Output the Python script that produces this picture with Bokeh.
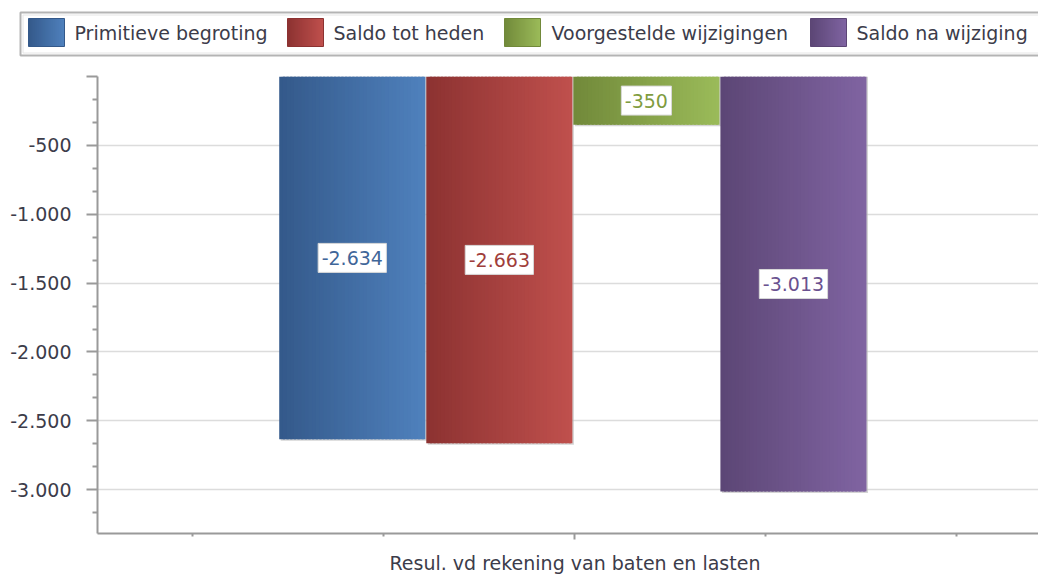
from bokeh.plotting import figure
from bokeh.models import Range1d, FixedTicker
from bokeh.core.properties import value
from bokeh.embed import file_html
from bokeh.resources import INLINE

# ---------------- data ----------------
category = "Resul. vd rekening van baten en lasten"
series = ["Primitieve begroting", "Saldo tot heden", "Voorgestelde wijzigingen", "Saldo na wijziging"]
values = [-2634, -2663, -350, -3013]
y_ticks = [0, -500, -1000, -1500, -2000, -2500, -3000]

# ---------------- style ----------------
dark = ["#34598a", "#8c3231", "#71893a", "#5c4675"]
light = ["#4f81bd", "#c0504d", "#9bbb59", "#8064a2"]
label_colors = ["#3f6699", "#a03e3b", "#7f9c3f", "#6a5290"]
FONT = "DejaVu Sans"
TXT = "#3c3c4a"
FS = "19px"
FSN = 19
AXIS = "#9a9a9a"
W = 1038
LEG_H = 60
MAIN_H = 576 - LEG_H


def hex2rgb(h):
    h = h.lstrip("#")
    return tuple(int(h[i:i + 2], 16) for i in (0, 2, 4))


def mix(c1, c2, t):
    a, b = hex2rgb(c1), hex2rgb(c2)
    return "#%02x%02x%02x" % tuple(round(a[k] + (b[k] - a[k]) * t) for k in range(3))


def fmt(v):
    return f"{v:,}".replace(",", ".")


ADV = {"-": 0.361, ".": 0.318}  # DejaVu Sans advances (em)


def text_w(s):
    return sum(ADV.get(c, 0.636) for c in s) * FSN


def strips(left, right, n):
    """left-aligned strips that overlap their right neighbour (no seams)."""
    sw = (right - left) / n
    ls = [left + k * sw for k in range(n)]
    rs = [min(l + 1.6 * sw, right) for l in ls]
    return ls, rs


N = 40  # gradient steps per bar

# ---------------- main chart ----------------
p = figure(width=W, height=MAIN_H,
           x_range=Range1d(-2.5, 2.427), y_range=Range1d(-3318, 0),
           output_backend="svg", toolbar_location=None,
           min_border_left=97, min_border_right=0,
           min_border_top=76 - LEG_H, min_border_bottom=43)
p.outline_line_color = None
p.background_fill_color = "white"
p.xgrid.visible = False
p.ygrid.ticker = FixedTicker(ticks=y_ticks)
p.ygrid.grid_line_color = "#dcdcdc"
p.ygrid.grid_line_width = 1.5

step = 0.77
bw = 0.765
shift = -0.011
n = len(values)
offsets = [(i - (n - 1) / 2) * step + shift for i in range(n)]

# shadows
sh_dx = 1.5 / 191.0
sh_dy = 1.5 * 500 / 68.9
p.vbar(x=[o + sh_dx for o in offsets], width=bw, top=0,
       bottom=[v - sh_dy for v in values],
       fill_color="#b8b8b8", fill_alpha=0.6, line_color=None)

# bars with a horizontal gradient
for i, v in enumerate(values):
    ls, rs = strips(offsets[i] - bw / 2, offsets[i] + bw / 2, N)
    cols = [mix(dark[i], light[i], (k + 0.5) / N) for k in range(N)]
    p.quad(left=ls, right=rs, top=0, bottom=v,
           fill_color=cols, line_color=None)

lab_text = [fmt(v) for v in values]
lab_y = [v / 2 for v in values]
p.rect(x=offsets, y=lab_y, width=[text_w(t) + 7 for t in lab_text], height=29,
       width_units="screen", height_units="screen",
       fill_color="white", line_color="#d8d8d8", line_width=1)
p.text(x=offsets, y=lab_y, text=lab_text, text_align="center", text_baseline="middle",
       text_font=value(FONT), text_font_size=FS, text_color=label_colors)

# y axis
step_minor = 500 / 3
minor = [-(k * step_minor) for k in range(0, 21)]
minor = [m for m in minor if all(abs(m - t) > 1 for t in y_ticks)]
p.yaxis.ticker = FixedTicker(ticks=y_ticks, minor_ticks=minor)
p.yaxis.major_label_overrides = {t: ("" if t == 0 else fmt(t)) for t in y_ticks}
p.yaxis.major_label_text_font = FONT
p.yaxis.major_label_text_font_size = FS
p.yaxis.major_label_text_color = TXT
p.yaxis.major_label_standoff = 15
p.yaxis.axis_line_color = AXIS
p.yaxis.axis_line_width = 2
p.yaxis.major_tick_line_color = AXIS
p.yaxis.major_tick_line_width = 2
p.yaxis.major_tick_out = 11
p.yaxis.major_tick_in = 0
p.yaxis.minor_tick_line_color = AXIS
p.yaxis.minor_tick_line_width = 2
p.yaxis.minor_tick_out = 5
p.yaxis.minor_tick_in = 0

# x axis
p.xaxis.ticker = FixedTicker(ticks=[0], minor_ticks=[-2, -1, 1, 2])
p.xaxis.major_label_overrides = {0: category}
p.xaxis.major_label_text_font = FONT
p.xaxis.major_label_text_font_size = FS
p.xaxis.major_label_text_color = TXT
p.xaxis.major_label_standoff = 12
p.xaxis.axis_line_color = AXIS
p.xaxis.axis_line_width = 2
p.xaxis.major_tick_line_color = AXIS
p.xaxis.major_tick_line_width = 2
p.xaxis.major_tick_out = 6
p.xaxis.major_tick_in = 0
p.xaxis.minor_tick_line_color = AXIS
p.xaxis.minor_tick_line_width = 2
p.xaxis.minor_tick_out = 3
p.xaxis.minor_tick_in = 0

# ---------------- legend strip (its own figure, pixel coordinates) ----------------
leg = figure(width=W, height=LEG_H, x_range=Range1d(0, W), y_range=Range1d(LEG_H, 0),
             output_backend="svg", toolbar_location=None,
             x_axis_location=None, y_axis_location=None,
             min_border=0, min_border_left=0, min_border_right=0,
             min_border_top=0, min_border_bottom=0)
leg.outline_line_color = None
leg.xgrid.visible = False
leg.ygrid.visible = False

leg.quad(left=20, right=1080, top=12, bottom=55, fill_color="white",
         line_color="#b4b4b4", line_width=2)
leg.quad(left=22.5, right=1080, top=14.5, bottom=52.5, fill_color=None,
         line_color="#e6e6e6", line_width=1)

sw_x = [28, 287, 504, 810]
tx_x = [74, 333, 551, 856]
SWW = 36
NS = 18
for i, name in enumerate(series):
    ls, rs = strips(sw_x[i], sw_x[i] + SWW, NS)
    cols = [mix(dark[i], light[i], (k + 0.5) / NS) for k in range(NS)]
    leg.quad(left=ls, right=rs, top=18, bottom=46,
             fill_color=cols, line_color=None)
    leg.quad(left=sw_x[i], right=sw_x[i] + SWW, top=18, bottom=46,
             fill_color=None, line_color=dark[i], line_width=1)
    leg.text(x=[tx_x[i]], y=[32.5], text=[name], text_font=value(FONT),
             text_font_size=FS, text_color=TXT, text_baseline="middle",
             text_align="left")

open("out.html", "w").write(file_html([leg, p], INLINE))
